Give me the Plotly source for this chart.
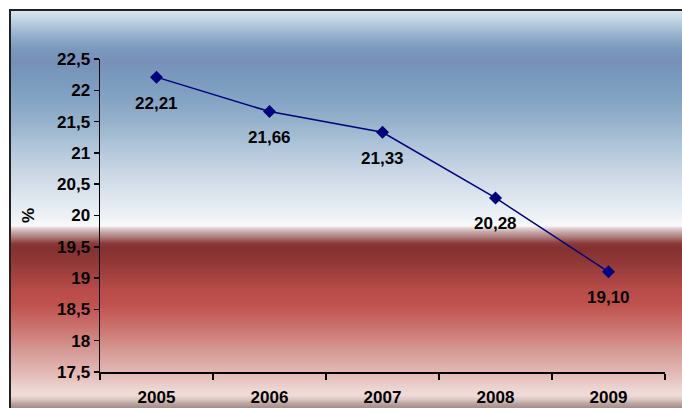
import base64
import struct
import zlib

import plotly.graph_objects as go

# ---- data ----
years = ["2005", "2006", "2007", "2008", "2009"]
values = [22.21, 21.66, 21.33, 20.28, 19.10]
y_ticks = [17.5, 18, 18.5, 19, 19.5, 20, 20.5, 21, 21.5, 22, 22.5]

W, H = 682, 408
L, R, T, B = 100, 665, 59, 372  # plot area (px)


def px_x(p):
    return (p - L) / (R - L)


def px_y(p):
    return (B - p) / (B - T)


# background gradient stops (pixel row, colour)
stops = [
    (9, "#dce8f4"), (20, "#c0d4e4"), (30, "#a4bcd4"), (40, "#8aa8c8"),
    (50, "#7898bc"), (62, "#7890b8"), (75, "#7898bc"), (100, "#84a4c4"),
    (125, "#98b4cc"), (150, "#b4c8dc"), (175, "#ccd8e6"), (200, "#e0e8f0"),
    (220, "#f0f4f8"), (226, "#fafafa"), (228, "#e4d4d4"), (232, "#c8a8a8"),
    (238, "#a87474"), (243, "#8c3c3a"), (248, "#843030"), (265, "#943a38"),
    (290, "#b84c48"), (305, "#c0524e"), (330, "#cc7672"), (355, "#d8a09c"),
    (375, "#e4bcb8"), (388, "#ecd4d0"), (395, "#f0dcd8"), (400, "#d8c4c0"),
    (404, "#b8a09c"), (409, "#a08884"),
]


def hex2rgb(h):
    h = h.lstrip("#")
    return tuple(int(h[i:i + 2], 16) for i in (0, 2, 4))


def colour_at(p):
    for (p0, c0), (p1, c1) in zip(stops, stops[1:]):
        if p0 <= p <= p1:
            t = (p - p0) / (p1 - p0) if p1 > p0 else 0
            a, b = hex2rgb(c0), hex2rgb(c1)
            return tuple(round(a[i] + (b[i] - a[i]) * t) for i in range(3))
    return hex2rgb(stops[-1][1])


def gradient_png(rows):
    raw = b"".join(b"\x00" + bytes(colour_at(r + 0.5)) for r in rows)

    def chunk(tag, data):
        c = struct.pack(">I", len(data)) + tag + data
        return c + struct.pack(">I", zlib.crc32(tag + data) & 0xFFFFFFFF)

    png = b"\x89PNG\r\n\x1a\n"
    png += chunk(b"IHDR", struct.pack(">IIBBBBB", 1, len(rows), 8, 2, 0, 0, 0))
    png += chunk(b"IDAT", zlib.compress(raw))
    png += chunk(b"IEND", b"")
    return "data:image/png;base64," + base64.b64encode(png).decode()


top_px, bot_px = 10, 409
rows = list(range(top_px, bot_px))
bg_img = dict(
    source=gradient_png(rows), xref="paper", yref="paper", layer="below",
    x=px_x(10), y=px_y(top_px),
    sizex=px_x(700) - px_x(10), sizey=(bot_px - top_px) / (B - T),
    xanchor="left", yanchor="top", sizing="stretch",
)

shapes = [dict(
    type="rect", xref="paper", yref="paper", layer="below",
    x0=px_x(10), x1=px_x(720), y0=px_y(430), y1=px_y(10),
    fillcolor="rgba(0,0,0,0)", line=dict(color="#222222", width=2),
)]

font = dict(family="Liberation Sans, Arial, sans-serif", size=17, color="black", weight="bold")

fig = go.Figure()
fig.add_trace(go.Scatter(
    x=years, y=values, mode="lines+markers",
    line=dict(color="#000080", width=1.5),
    marker=dict(symbol="diamond", size=10, color="#000080"),
    hoverinfo="skip", showlegend=False,
))

annotations = [
    dict(x=i, y=v, xref="x", yref="y", text=f"{v:.2f}".replace(".", ","),
         showarrow=False, yshift=-26, font=font)
    for i, v in enumerate(values)
]
annotations.append(dict(
    x=px_x(28), y=px_y(216), xref="paper", yref="paper", text="%",
    showarrow=False, textangle=-90, font=font, xanchor="center", yanchor="middle",
))

fig.update_layout(
    width=W, height=H,
    margin=dict(l=L, r=W - R, t=T, b=H - B, pad=0, autoexpand=False),
    paper_bgcolor="white", plot_bgcolor="rgba(0,0,0,0)",
    separators=", ",
    images=[bg_img], shapes=shapes, annotations=annotations,
    font=font,
    xaxis=dict(
        type="category", tickson="boundaries", ticks="outside", ticklen=6,
        tickwidth=1.5, tickcolor="black", showline=True, linecolor="black",
        linewidth=1.5, showgrid=False, zeroline=False, tickfont=font,
        ticklabelstandoff=9, range=[-0.5, 4.5], automargin=False,
    ),
    yaxis=dict(
        range=[17.5, 22.5], tickvals=y_ticks, ticks="outside", ticklen=5,
        tickwidth=1.5, tickcolor="black", showline=True, linecolor="black",
        linewidth=1.5, showgrid=False, zeroline=False, tickfont=font,
        automargin=False,
    ),
)

fig.write_html(
    "out.html",
    config={"displayModeBar": False, "staticPlot": True},
    post_script="document.body.style.margin='0';document.body.style.overflow='hidden';",
)
